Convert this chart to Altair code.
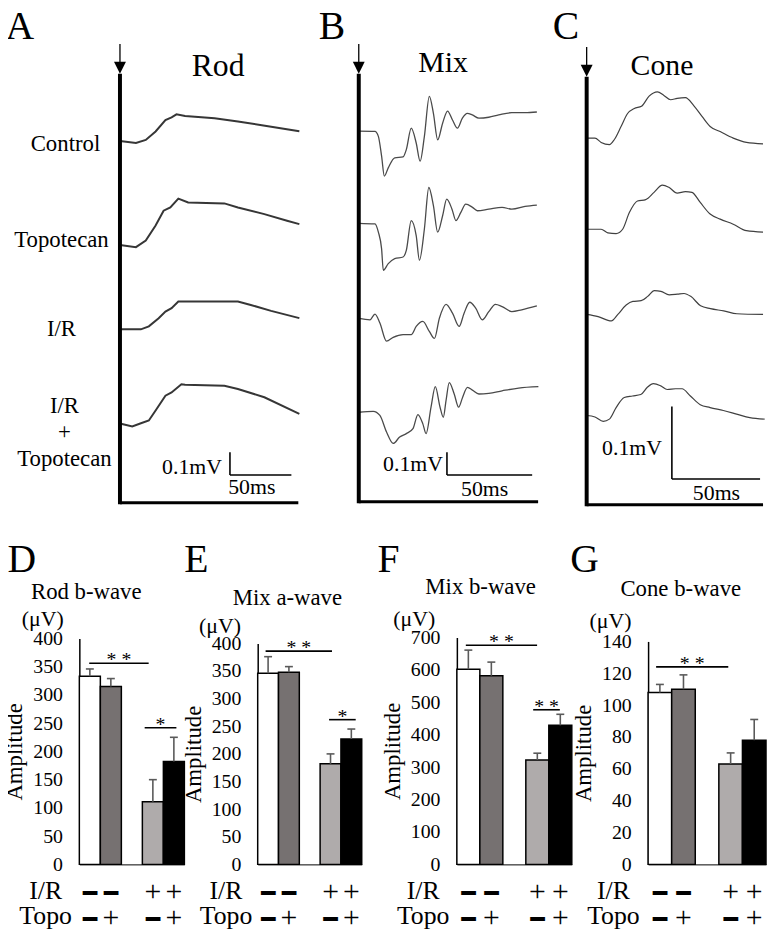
import altair as alt
import pandas as pd

FONT = "Liberation Serif"

# ------------------------------------------------------------------ data
trace_names = ["Control", "Topotecan", "I/R", "I/R+Topotecan"]

# Rod ERG (time after flash in ms, amplitude relative to baseline in mV)
rod_ctrl_t = [0, 13, 21, 29, 37, 42, 46, 53, 77, 96, 118, 146]
rod_ctrl_v = [0.0, -0.008, 0.005, 0.042, 0.092, 0.104, 0.117, 0.110, 0.100, 0.086, 0.067, 0.043]
rod_topo_t = [0, 13, 21, 29, 35.5, 41, 47.5, 55.5, 85, 96, 117.5, 136, 146]
rod_topo_v = [0.0, -0.009, 0.020, 0.086, 0.151, 0.165, 0.204, 0.187, 0.183, 0.165, 0.136, 0.107, 0.092]
rod_ir_t = [0, 17, 23.5, 31.5, 37, 42, 47.5, 64, 96, 106.5, 123, 146]
rod_ir_v = [0.0, 0.0, 0.013, 0.049, 0.078, 0.093, 0.122, 0.122, 0.122, 0.107, 0.081, 0.049]
rod_irt_t = [0, 10, 16.5, 23.5, 29, 37, 42, 50, 53, 85, 96, 117.5, 146]
rod_irt_v = [0.0, -0.013, 0.0, 0.013, 0.057, 0.122, 0.136, 0.172, 0.170, 0.165, 0.151, 0.115, 0.042]

# Mixed rod-cone ERG
mix_ctrl_t = [0, 9.5, 11.5, 13.4, 15.0, 17.3, 21.1, 26.0, 27.9, 30.8, 33.7, 36.0, 38.5, 41.4, 43.8,
              46.3, 49.2, 52.1, 55.0, 57.9, 60.8, 63.7, 66.6, 70.5, 76.3, 82.1, 89.8, 97.6, 104.5]
mix_ctrl_v = [0.0, -0.001, -0.023, -0.110, -0.197, -0.161, -0.117, -0.113, -0.081, 0.013, -0.052,
              -0.132, -0.023, 0.153, 0.078, -0.038, 0.035, 0.088, 0.049, 0.013, 0.057, 0.078, 0.071,
              0.057, 0.061, 0.071, 0.081, 0.081, 0.084]
mix_topo_t = [0, 9.5, 11.5, 13.4, 14.4, 17.3, 21.1, 26.0, 27.9, 30.8, 33.7, 35.6, 38.5, 41.1, 43.8,
              46.3, 49.2, 51.6, 54.7, 57.0, 59.9, 62.8, 66.7, 69.6, 76.3, 84.1, 89.8, 97.6, 104.5]
mix_topo_v = [0.0, -0.003, -0.039, -0.112, -0.206, -0.177, -0.155, -0.148, -0.119, 0.012, -0.054,
              -0.162, -0.025, 0.157, 0.077, -0.039, 0.033, 0.106, 0.062, 0.012, 0.048, 0.084, 0.070,
              0.055, 0.062, 0.070, 0.062, 0.074, 0.080]
mix_ir_t = [0, 6.6, 9.5, 12.4, 16.3, 20.2, 26.0, 30.8, 33.7, 37.6, 41.4, 44.4, 47.3, 51.2, 55.0,
            58.9, 61.8, 65.1, 68.6, 72.5, 76.3, 80.2, 84.1, 89.8, 95.6, 104.5]
mix_ir_v = [0.0, -0.006, 0.019, -0.020, -0.100, -0.083, -0.071, -0.071, -0.035, -0.013, -0.057,
            -0.088, 0.001, 0.062, 0.023, -0.035, 0.023, 0.071, 0.045, -0.006, 0.030, 0.062, 0.052,
            0.030, 0.038, 0.055]
mix_irt_t = [0, 8.5, 12.4, 16.3, 20.2, 24.0, 27.9, 31.8, 34.7, 37.6, 39.5, 42.4, 44.9, 47.7, 49.6,
             51.2, 53.1, 56.0, 58.6, 60.9, 63.8, 66.7, 70.5, 76.3, 84.1, 93.8, 105.4]
mix_irt_v = [-0.003, 0.001, -0.017, -0.090, -0.140, -0.112, -0.097, -0.075, -0.013, -0.054, -0.097,
             0.019, 0.109, 0.019, -0.025, 0.048, 0.127, 0.077, 0.019, 0.062, 0.106, 0.094, 0.077,
             0.080, 0.091, 0.103, 0.109]

# Cone ERG
cone_ctrl_t = [0, 4.7, 8.2, 12.9, 15.7, 19.5, 23.2, 27.0, 31.1, 35.4, 40.1, 43.8, 47.6, 51.3, 56.0,
               60.7, 65.4, 70.0, 75.7, 83.1, 90.6, 100.0]
cone_ctrl_v = [0.0, 0.0, -0.006, -0.009, -0.002, 0.016, 0.034, 0.041, 0.044, 0.058, 0.064, 0.059,
               0.053, 0.055, 0.056, 0.045, 0.030, 0.016, 0.009, 0.0, -0.006, -0.008]
cone_topo_t = [0, 8.2, 12.0, 16.7, 20.4, 24.2, 28.8, 33.5, 38.2, 42.9, 46.6, 51.3, 56.0, 59.7, 64.4,
               70.0, 75.7, 83.1, 90.6, 100.0]
cone_topo_v = [0.0, 0.0, -0.005, -0.006, 0.0, 0.023, 0.039, 0.041, 0.051, 0.061, 0.058, 0.050, 0.052,
               0.051, 0.037, 0.021, 0.014, 0.007, -0.002, -0.004]
cone_ir_t = [0, 6.5, 14.0, 17.7, 22.4, 26.2, 30.9, 34.6, 38.4, 42.1, 46.8, 51.5, 55.2, 59.0, 64.6,
             70.2, 77.7, 85.2, 100.0]
cone_ir_v = [0.0, -0.003, -0.009, 0.0, 0.013, 0.018, 0.019, 0.025, 0.033, 0.032, 0.027, 0.028, 0.029,
             0.025, 0.012, 0.008, 0.005, 0.001, 0.0]
cone_irt_t = [0, 4.7, 9.4, 12.9, 16.7, 21.3, 26.0, 30.7, 34.4, 37.8, 42.0, 45.7, 50.4, 54.1, 58.8,
              64.4, 70.0, 77.5, 85.0, 92.5, 100.9]
cone_irt_v = [0.0, -0.002, -0.008, -0.005, 0.011, 0.025, 0.027, 0.029, 0.039, 0.044, 0.041, 0.036,
              0.037, 0.037, 0.027, 0.015, 0.011, 0.007, 0.002, -0.003, -0.005]

scalebar_mv = 0.1
scalebar_ms = 50

# Bar charts: mean and SEM amplitudes (uV)
groups = ["Control", "Topotecan", "I/R", "I/R+Topotecan"]
rod_b_mean = [333, 315, 111, 182]
rod_b_se = [13, 14, 39, 43]
mix_a_mean = [346, 348, 182, 227]
mix_a_se = [30, 10, 18, 18]
mix_b_mean = [602, 582, 322, 429]
mix_b_se = [59, 42, 21, 34]
cone_b_mean = [108, 110, 63, 78]
cone_b_se = [5, 9, 7, 13]

ir_signs = ["-", "-", "+", "+"]
topo_signs = ["-", "+", "-", "+"]

# ------------------------------------------------------------------ styles / layout
BAR_COLORS = ["#FFFFFF", "#767171", "#AFABAB", "#000000"]
ERR_COLOR = "#5a5a5a"
ONE = pd.DataFrame({"k": [0]})
OX, OY = 8, 8              # page margin: reference pixel -> chart pixel
W, H = 766, 928            # whole figure (single view)
TRACE_ZERO = 510           # reference y of each ERG panel's 0 mV level
SLOTS = [0, 1, 3, 4]
px = lambda v: v - OX
py = lambda v: v - OY


def txt(text, x, y, size, align="center", baseline="alphabetic", font=FONT,
        weight="normal", color="black", **kw):
    return alt.Chart(ONE).mark_text(
        text=text, font=font, fontSize=size, fontWeight=weight, align=align,
        baseline=baseline, color=color, **kw
    ).encode(x=alt.value(px(x)), y=alt.value(py(y)))


def vrule(x, y1, y2, w):
    return alt.Chart(ONE).mark_rule(color="black", strokeWidth=w).encode(
        x=alt.value(px(x)), y=alt.value(py(y1)), y2=alt.value(py(y2)))


def hrule(x1, x2, y, w):
    return alt.Chart(ONE).mark_rule(color="black", strokeWidth=w).encode(
        x=alt.value(px(x1)), x2=alt.value(px(x2)), y=alt.value(py(y)))


def trace_group(series, L):
    """One ERG panel: traces and scale bar on its own ms / mV scales."""
    left, right = L["left"], L["right"]
    tmin = (left - L["axis_x"]) / L["px_ms"]
    tmax = (right - L["axis_x"]) / L["px_ms"]
    vtop = (TRACE_ZERO - OY) / L["px_mv"]
    xs = alt.Scale(domain=[tmin, tmax], range=[px(left), px(right)], nice=False, zero=False)
    ys = alt.Scale(domain=[0, vtop], range=[py(TRACE_ZERO), 0], nice=False, zero=False)
    rows = []
    for name, (t, v), base in zip(trace_names, series, L["base_y"]):
        off = (TRACE_ZERO - base) / L["px_mv"]
        rows += [{"trace": name, "t": a, "mv": b + off} for a, b in zip(t, v)]
    df = pd.DataFrame(rows)
    bx, by = L["bar"]
    t0 = (bx - L["axis_x"]) / L["px_ms"]
    y0 = (TRACE_ZERO - by) / L["px_mv"]
    sb = pd.DataFrame({"t0": [t0], "t1": [t0 + scalebar_ms], "y0": [y0], "y1": [y0 + scalebar_mv]})
    lines = alt.Chart(df).mark_line(color=L["color"], strokeWidth=L["lw"],
                                    interpolate=L["interp"]).encode(
        x=alt.X("t:Q", scale=xs, axis=None),
        y=alt.Y("mv:Q", scale=ys, axis=None),
        detail="trace:N")
    bar_v = alt.Chart(sb).mark_rule(color="black", strokeWidth=1.6).encode(
        x=alt.X("t0:Q", scale=xs, axis=None), y=alt.Y("y0:Q", scale=ys, axis=None), y2="y1:Q")
    bar_h = alt.Chart(sb).mark_rule(color="black", strokeWidth=1.6).encode(
        x=alt.X("t0:Q", scale=xs, axis=None), x2="t1:Q", y=alt.Y("y0:Q", scale=ys, axis=None))
    return alt.layer(lines, bar_v, bar_h)


def frame_layers(L):
    ax = L["axis_x"]
    layers = [
        vrule(ax, L["axis_top"], L["axis_bottom"] + 1.5, 4),
        hrule(ax, L["base_right"], L["axis_bottom"], 3),
        vrule(ax, L["axis_top"] - 30, L["axis_top"] - 10, 1.3),
        alt.Chart(ONE).mark_point(shape="M-1,-1L1,-1L0,1Z", filled=True, size=144,
                                  color="black", opacity=1).encode(
            x=alt.value(px(ax)), y=alt.value(py(L["axis_top"] - 6))),
    ]
    for text, x, y, size, align in L["texts"]:
        layers.append(txt(text, x, y, size, align=align, lineBreak="\n", lineHeight=27))
    return layers


def bar_group(means, ses, B):
    left, right, top, zero = B["left"], B["right"], B["top"], B["zero"]
    slot_px = (right - left) / 5
    df = pd.DataFrame({"group": groups, "mean": means, "se": ses, "slot": SLOTS})
    df["x0"] = df["slot"]
    df["x1"] = df["slot"] + 1
    df["xc"] = df["slot"] + 0.5
    df["top"] = df["mean"] + df["se"]
    half = 4 / slot_px
    df["cl"] = df["xc"] - half
    df["cr"] = df["xc"] + half
    ymax, step = B["ymax"], B["step"]
    xs = alt.Scale(domain=[0, 5], range=[px(left), px(right)], nice=False, zero=False)
    ys = alt.Scale(domain=[0, ymax], range=[py(zero), py(top)], nice=False, zero=True)
    xax = alt.Axis(orient="bottom", offset=py(zero) - H, labels=False, ticks=False, grid=False,
                   title=None, domainColor="black", domainWidth=1)
    yax = alt.Axis(orient="left", offset=-px(left), values=list(range(0, ymax + 1, step)),
                   ticks=False, grid=False, domainColor="black", domainWidth=1.5,
                   labelPadding=17, labelFont=FONT, labelFontSize=20, labelColor="black",
                   title="Amplitude", titleFont=FONT, titleFontSize=23,
                   titleFontWeight="normal", titleColor="black", titleAngle=270,
                   titleX=-53, titleBaseline="bottom", titleAlign="center")
    X = lambda f: alt.X(f, scale=xs, axis=xax)
    Y = lambda f: alt.Y(f, scale=ys, axis=yax)
    layers = [
        alt.Chart(df).mark_bar(stroke="black", strokeWidth=1.5).encode(
            x=X("x0:Q"), x2="x1:Q", y=Y("mean:Q"), y2=alt.datum(0),
            color=alt.Color("group:N", scale=alt.Scale(domain=groups, range=BAR_COLORS),
                            legend=None)),
        alt.Chart(df).mark_rule(color=ERR_COLOR, strokeWidth=1.6).encode(
            x=X("xc:Q"), y=Y("mean:Q"), y2="top:Q"),
        alt.Chart(df).mark_rule(color=ERR_COLOR, strokeWidth=1.6).encode(
            x=X("cl:Q"), x2="cr:Q", y=Y("top:Q")),
    ]
    sig = pd.DataFrame(B["sig"], columns=["a", "b", "y", "label"])
    sig["mid"] = (sig["a"] + sig["b"]) / 2
    layers += [
        alt.Chart(sig).mark_rule(color="black", strokeWidth=1.6).encode(
            x=X("a:Q"), x2="b:Q", y=Y("y:Q")),
        alt.Chart(sig).mark_text(font=FONT, fontSize=20, dy=3,
                                 baseline="alphabetic", color="black").encode(
            x=X("mid:Q"), y=Y("y:Q"), text="label:N"),
    ]
    sdf = pd.DataFrame({"xc": df["xc"], "ir": ir_signs, "topo": topo_signs})
    for col, yv in (("ir", 905), ("topo", 931)):
        for sign in ("-", "+"):
            sub = sdf[sdf[col] == sign]
            if sign == "-":
                mk = alt.Chart(sub).mark_text(font="DejaVu Sans", fontSize=24, text="\u2501",
                                              baseline="alphabetic", color="black")
            else:
                mk = alt.Chart(sub).mark_text(font=FONT, fontSize=30, text="+",
                                              baseline="alphabetic", color="black")
            layers.append(mk.encode(x=X("xc:Q"), y=alt.value(py(yv))))
    return alt.layer(*layers)


def bar_texts(B):
    return [
        txt("I/R", B["lab_x"], 903, 26),
        txt("Topo", B["lab_x"], 928, 26),
        txt(B["letter"], B["letter_x"], 573, 40),
        txt(B["title"], B["title_x"], B["title_y"], 23),
        txt("(\u03bcV)", B["uv_x"], B["uv_y"], 22, baseline="middle"),
    ]


A_L = dict(left=8, right=318, axis_x=121, px_ms=1.24, px_mv=230, axis_top=70, axis_bottom=503,
           base_right=301, base_y=[138, 243, 328, 423], bar=(232, 475),
           color="#363636", lw=2.0, interp="linear",
           texts=[("A", 20, 35, 40, "center"), ("Rod", 220, 72, 32, "center"),
                  ("Control", 66, 148, 23, "center"), ("Topotecan", 62, 245, 23, "center"),
                  ("I/R", 62, 335, 23, "center"), ("I/R\n+\nTopotecan", 65, 412, 23, "center"),
                  ("0.1mV", 224, 474, 22, "right"), ("50ms", 254, 494, 22, "center")])
B_L = dict(left=318, right=552, axis_x=362, px_ms=1.72, px_mv=230, axis_top=70, axis_bottom=502,
           base_right=543, base_y=[128, 221, 317, 411], bar=(451, 475),
           color="#4a4a4a", lw=1.3, interp="monotone",
           texts=[("B", 335, 35, 40, "center"), ("Mix", 447, 68, 30, "center"),
                  ("0.1mV", 447, 471, 22, "right"), ("50ms", 489, 496, 22, "center")])
C_L = dict(left=552, right=774, axis_x=592, px_ms=1.78, px_mv=730, axis_top=73, axis_bottom=505,
           base_right=770, base_y=[135, 227, 313, 415], bar=(678, 479),
           color="#404040", lw=1.2, interp="monotone",
           texts=[("C", 571, 35, 40, "center"), ("Cone", 668, 71, 30, "center"),
                  ("0.1mV", 668, 455, 22, "right"), ("50ms", 723, 500, 22, "center")])

D_B = dict(left=80, right=186, top=640, zero=868, ymax=400, step=50,
           letter="D", letter_x=22, title="Rod b-wave", title_x=87, title_y=600,
           uv_x=43, uv_y=620, lab_x=46,
           sig=[(0.47, 3.30, 356, "* *"), (3.11, 4.62, 242, "*")])
E_B = dict(left=260, right=365, top=645, zero=868, ymax=400, step=50,
           letter="E", letter_x=198, title="Mix a-wave", title_x=290, title_y=606,
           uv_x=222, uv_y=627, lab_x=228,
           sig=[(0.38, 3.57, 386, "* *"), (3.43, 4.71, 262, "*")])
F_B = dict(left=461, right=577, top=639, zero=868, ymax=700, step=100,
           letter="F", letter_x=392, title="Mix b-wave", title_x=485, title_y=595,
           uv_x=418, uv_y=620, lab_x=427,
           sig=[(0.39, 3.49, 676, "* *"), (3.32, 4.48, 477, "* *")])
G_B = dict(left=654, right=773, top=643, zero=868, ymax=140, step=20,
           letter="G", letter_x=590, title="Cone b-wave", title_x=687, title_y=597,
           uv_x=616, uv_y=622, lab_x=619,
           sig=[(0.34, 3.40, 124, "* *")])

series_a = [(rod_ctrl_t, rod_ctrl_v), (rod_topo_t, rod_topo_v),
            (rod_ir_t, rod_ir_v), (rod_irt_t, rod_irt_v)]
series_b = [(mix_ctrl_t, mix_ctrl_v), (mix_topo_t, mix_topo_v),
            (mix_ir_t, mix_ir_v), (mix_irt_t, mix_irt_v)]
series_c = [(cone_ctrl_t, cone_ctrl_v), (cone_topo_t, cone_topo_v),
            (cone_ir_t, cone_ir_v), (cone_irt_t, cone_irt_v)]

chart = alt.layer(
    trace_group(series_a, A_L),
    trace_group(series_b, B_L),
    trace_group(series_c, C_L),
    bar_group(rod_b_mean, rod_b_se, D_B),
    bar_group(mix_a_mean, mix_a_se, E_B),
    bar_group(mix_b_mean, mix_b_se, F_B),
    bar_group(cone_b_mean, cone_b_se, G_B),
    *frame_layers(A_L), *frame_layers(B_L), *frame_layers(C_L),
    *bar_texts(D_B), *bar_texts(E_B), *bar_texts(F_B), *bar_texts(G_B),
).resolve_scale(x="independent", y="independent").properties(
    width=W, height=H, padding=0, autosize=alt.AutoSizeParams(type="none")
).configure_view(stroke=None).configure_axis(labelFont=FONT, titleFont=FONT)

chart.save("out.html", embed_options={"renderer": "svg", "actions": False})
